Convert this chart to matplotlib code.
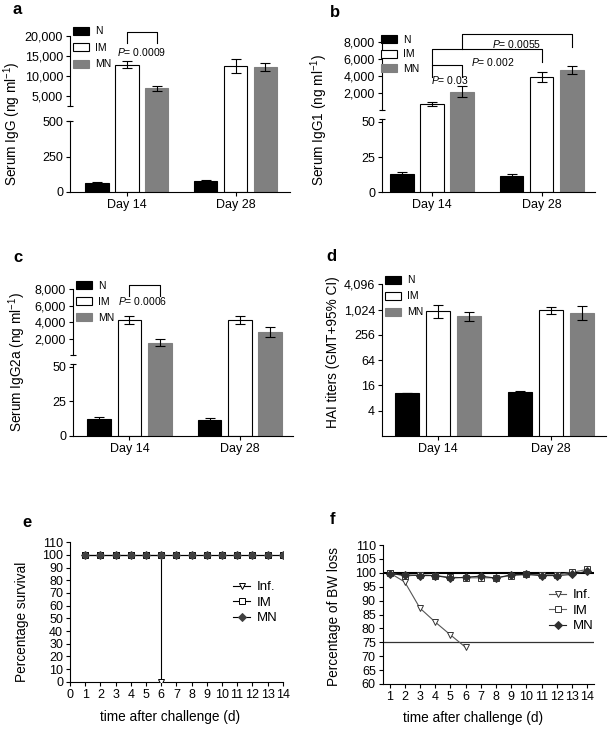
import matplotlib
matplotlib.use('Agg')
import matplotlib.pyplot as plt
import matplotlib.transforms as mtransforms
from matplotlib.ticker import FuncFormatter
import numpy as np

plt.rcParams['font.family'] = ['Liberation Sans', 'DejaVu Sans']
plt.rcParams['mathtext.fontset'] = 'custom'
plt.rcParams['mathtext.rm'] = 'Liberation Sans'
plt.rcParams['mathtext.it'] = 'Liberation Sans:italic'
plt.rcParams['axes.linewidth'] = 0.8

# ---- data ----
days = ['Day 14', 'Day 28']
groups = ['N', 'IM', 'MN']

# a: serum IgG (ng/ml)
igg_n = [65, 76]
igg_im = [12800, 12500]
igg_mn = [6800, 12300]
igg_n_err = [4, 12]
igg_im_err = [940, 1780]
igg_mn_err = [720, 1000]

# b: serum IgG1
igg1_n = [12.9, 11.9]
igg1_im = [750, 3930]
igg1_mn = [2190, 4710]
igg1_n_err = [1.4, 1.0]
igg1_im_err = [250, 580]
igg1_mn_err = [620, 490]

# c: serum IgG2a
igg2a_n = [12.0, 11.3]
igg2a_im = [4300, 4300]
igg2a_mn = [1550, 2880]
igg2a_n_err = [1.5, 1.5]
igg2a_im_err = [500, 500]
igg2a_mn_err = [400, 620]

# d: HAI titers, GMT with 95% CI
hai_n = [10.5, 11.1]
hai_im = [940, 1000]
hai_mn = [715, 855]
hai_n_lo = [10.5, 10.2]
hai_n_hi = [10.5, 12.1]
hai_im_lo = [640, 810]
hai_im_hi = [1325, 1210]
hai_mn_lo = [560, 580]
hai_mn_hi = [915, 1235]

# e: survival
surv_days = list(range(1, 15))
surv_inf_days = [1, 2, 3, 4, 5, 6]
surv_inf = [100, 100, 100, 100, 100, 0]
surv_im = [100] * 14
surv_mn = [100] * 14

# f: body weight
bw_days = list(range(1, 15))
bw_inf_days = [1, 2, 3, 4, 5, 6]
bw_inf = [100, 96.7, 87.3, 82.3, 77.7, 73.2]
bw_im = [100, 98.8, 99.3, 99.0, 98.4, 98.2, 98.2, 98.2, 99.0, 99.4, 99.3, 99.3, 100.2, 101.2]
bw_mn = [99.6, 99.3, 99.0, 99.0, 98.1, 98.4, 98.8, 98.1, 99.3, 99.4, 99.0, 99.0, 99.4, 100.6]
bw_base = 100
bw_limit = 75

W, H = 613, 730
fig = plt.figure(figsize=(W / 100, H / 100), dpi=100)

TICK_FS = 9
LABEL_FS = 9.8


def frame(x0, x1, ytop, ybot):
    return [x0 / W, 1 - ybot / H, (x1 - x0) / W, (ybot - ytop) / H]


def px(x, y):
    return x / W, 1 - y / H


def broken_scale(vals, hs):
    vals = np.asarray(vals, float)
    hs = np.asarray(hs, float)
    s0 = (hs[1] - hs[0]) / (vals[1] - vals[0])
    s1 = (hs[-1] - hs[-2]) / (vals[-1] - vals[-2])
    v = np.r_[vals[0] - 1e6, vals, vals[-1] + 1e6]
    h = np.r_[hs[0] - 1e6 * s0, hs, hs[-1] + 1e6 * s1]
    return (lambda x: np.interp(x, v, h)), (lambda y: np.interp(y, h, v))


def broken_spine(ax, lower, upper):
    ax.spines['left'].set_visible(False)
    tr = mtransforms.blended_transform_factory(ax.transAxes, ax.transData)
    ax.plot([0, 0], lower, color='k', lw=0.8, transform=tr, clip_on=False,
            marker='_', markevery=[1], ms=5, mew=0.8)
    ax.plot([0, 0], upper, color='k', lw=0.8, transform=tr, clip_on=False,
            marker='_', markevery=[0], ms=5, mew=0.8)


OFF, BW = 0.275, 0.215
fills = ['black', 'white', '#808080']
edges = ['black', 'black', '#808080']
comma = FuncFormatter(lambda v, p: f'{v:,.0f}')


def bar_panel(ax, means, errs, xlim):
    x = np.arange(len(days))
    for i, (m, e) in enumerate(zip(means, errs)):
        ax.bar(x + (i - 1) * OFF, m, width=BW, color=fills[i], edgecolor=edges[i],
               linewidth=0.8, label=groups[i], yerr=e, capsize=3.5,
               error_kw=dict(elinewidth=0.8, capthick=0.8, ecolor='black'), zorder=2)
    ax.set_xlim(*xlim)
    ax.set_xticks(x)
    ax.set_xticklabels(days)
    for s in ['top', 'right']:
        ax.spines[s].set_visible(False)
    ax.tick_params(labelsize=TICK_FS, length=3, width=0.8, pad=2)


def bar_legend(ax, x, y, spacing):
    ax.legend(loc='upper left', bbox_to_anchor=px(x, y), bbox_transform=fig.transFigure,
              frameon=False, fontsize=7.5, borderpad=0, borderaxespad=0,
              handlelength=1.55, handleheight=0.8, handletextpad=0.6, labelspacing=spacing)


def bracket(ax, x0, x1, top, leg0, leg1):
    tr = mtransforms.blended_transform_factory(ax.transData, ax.transAxes)
    ax.plot([x0, x0, x1, x1], [leg0, top, top, leg1], color='k', lw=0.8,
            transform=tr, clip_on=False)


def ptext(ax, x, y, s):
    tr = mtransforms.blended_transform_factory(ax.transData, ax.transAxes)
    ax.text(x, y, r'$P$= ' + s, transform=tr, ha='center', va='center', fontsize=7.5)


# ---- a ----
ax = fig.add_axes(frame(70, 290, 36, 192))
fwd, inv = broken_scale([0, 500, 2500, 20000], [0, 71, 86.5, 156])
ax.set_yscale('function', functions=(fwd, inv))
bar_panel(ax, [igg_n, igg_im, igg_mn], [igg_n_err, igg_im_err, igg_mn_err], (-0.525, 1.502))
ax.set_ylim(0, 20000)
ax.set_yticks([0, 250, 500, 5000, 10000, 15000, 20000])
ax.yaxis.set_major_formatter(comma)
broken_spine(ax, [0, 515], [2500, 20000])
bar_legend(ax, 73, 26.5, 0.62)
bracket(ax, 0, OFF, 1.024, 0.957, 0.957)
ptext(ax, 0.138, 0.896, '0.0009')

# ---- b ----
ax = fig.add_axes(frame(382, 595, 41.7, 192.3))
fwd, inv = broken_scale([0, 52, 100, 8000], [0, 73.3, 82.7, 150.6])
ax.set_yscale('function', functions=(fwd, inv))
bar_panel(ax, [igg1_n, igg1_im, igg1_mn], [igg1_n_err, igg1_im_err, igg1_mn_err], (-0.456, 1.486))
ax.set_ylim(0, 8000)
ax.set_yticks([0, 25, 50, 2000, 4000, 6000, 8000])
ax.yaxis.set_major_formatter(comma)
broken_spine(ax, [0, 52], [100, 8000])
bar_legend(ax, 381, 35, 0.42)
bracket(ax, 0, OFF, 0.845, 0.768, 0.768)
ptext(ax, 0.16, 0.746, '0.03')
bracket(ax, 0, 1, 0.95, 0.845, 0.867)
ptext(ax, 0.556, 0.867, '0.002')
bracket(ax, OFF, 1 + OFF, 1.049, 0.951, 0.967)
ptext(ax, 0.772, 0.985, '0.0055')

# ---- c ----
ax = fig.add_axes(frame(73, 293, 289.3, 435.7))
fwd, inv = broken_scale([0, 52, 100, 8000], [0, 71.8, 81, 146.4])
ax.set_yscale('function', functions=(fwd, inv))
bar_panel(ax, [igg2a_n, igg2a_im, igg2a_mn], [igg2a_n_err, igg2a_im_err, igg2a_mn_err], (-0.511, 1.48))
ax.set_ylim(0, 8000)
ax.set_yticks([0, 25, 50, 2000, 4000, 6000, 8000])
ax.yaxis.set_major_formatter(comma)
broken_spine(ax, [0, 52], [100, 8000])
bar_legend(ax, 76, 281, 0.58)
bracket(ax, 0, OFF, 1.029, 0.954, 0.954)
ptext(ax, 0.122, 0.92, '0.0006')

# ---- d ----
ax = fig.add_axes(frame(382, 606, 284.3, 436))
ax.set_yscale('log', base=2)
hai_means = [hai_n, hai_im, hai_mn]
hai_errs = [[np.subtract(m, lo), np.subtract(hi, m)] for m, lo, hi in
            [(hai_n, hai_n_lo, hai_n_hi), (hai_im, hai_im_lo, hai_im_hi), (hai_mn, hai_mn_lo, hai_mn_hi)]]
bar_panel(ax, hai_means, hai_errs, (-0.496, 1.487))
ax.set_ylim(1, 4096)
ax.set_yticks([4, 16, 64, 256, 1024, 4096])
ax.yaxis.set_major_formatter(comma)
ax.yaxis.set_minor_locator(matplotlib.ticker.NullLocator())
bar_legend(ax, 385, 275.3, 0.58)

# ---- e ----
ax = fig.add_axes(frame(70, 282.7, 542.3, 681.7))
ax.plot(surv_inf_days, surv_inf, color='k', lw=0.8, marker='v', ms=4.5, mfc='white',
        mec='k', mew=0.7, drawstyle='steps-post', label='Inf.', zorder=3)
ax.plot(surv_days, surv_im, color='k', lw=0.8, marker='s', ms=5, mfc='white',
        mec='k', mew=0.7, label='IM', zorder=4)
ax.plot(surv_days, surv_mn, color='k', lw=0.8, marker='D', ms=4.5, mfc='#404040',
        mec='#404040', mew=0.7, label='MN', zorder=5)
ax.set_xlim(0, 14)
ax.set_ylim(0, 110)
ax.set_xticks(range(0, 15))
ax.set_yticks(range(0, 111, 10))
for s in ['top', 'right']:
    ax.spines[s].set_visible(False)
ax.tick_params(labelsize=TICK_FS, length=3, width=0.8, pad=2)
ax.legend(loc='upper left', bbox_to_anchor=px(233, 581), bbox_transform=fig.transFigure,
          frameon=False, fontsize=9.5, borderpad=0, borderaxespad=0,
          handlelength=1.3, handletextpad=0.5, labelspacing=0.25)

# ---- f ----
ax = fig.add_axes(frame(382.7, 594, 545, 684))
ax.axhline(bw_base, color='k', lw=1.5, zorder=1)
ax.axhline(bw_limit, color='#333333', lw=0.9, zorder=1)
ax.plot(bw_inf_days, bw_inf, color='#555555', lw=0.8, marker='v', ms=5, mfc='white',
        mec='#333333', mew=0.7, label='Inf.', zorder=3)
ax.plot(bw_days, bw_im, color='#666666', lw=0.8, marker='s', ms=5, mfc='white',
        mec='#333333', mew=0.7, label='IM', zorder=4)
ax.plot(bw_days, bw_mn, color='#222222', lw=0.8, marker='D', ms=4.5, mfc='#303030',
        mec='#303030', mew=0.7, label='MN', zorder=5)
ax.set_xlim(0.55, 14.45)
ax.set_ylim(60, 110)
ax.set_xticks(range(1, 15))
ax.set_yticks(range(60, 111, 5))
for s in ['top', 'right']:
    ax.spines[s].set_visible(False)
ax.tick_params(labelsize=TICK_FS, length=3, width=0.8, pad=2)
ax.legend(loc='upper left', bbox_to_anchor=px(549, 589), bbox_transform=fig.transFigure,
          frameon=False, fontsize=9.5, borderpad=0, borderaxespad=0,
          handlelength=1.3, handletextpad=0.5, labelspacing=0.25)

# ---- labels ----
for letter, (x, y) in zip('abcdef', [(16.7, 9.5), (335, 12.5), (18, 258), (331, 256.5),
                                     (27, 522.5), (333, 520)]):
    fig.text(*px(x, y), letter, fontsize=12, fontweight='bold', ha='center', va='center')

ylabels = [('Serum IgG (ng ml$^{-1}$)', 12.5, 123.5),
           ('Serum IgG1 (ng ml$^{-1}$)', 319, 120),
           ('Serum IgG2a (ng ml$^{-1}$)', 17.5, 361.7),
           ('HAI titers (GMT+95% CI)', 332.5, 352),
           ('Percentage survival', 22.5, 622),
           ('Percentage of BW loss', 334, 616.5)]
for s, x, y in ylabels:
    fig.text(*px(x, y), s, fontsize=LABEL_FS, rotation=90, ha='center', va='center')

fig.text(*px(170, 717), 'time after challenge (d)', fontsize=LABEL_FS, ha='center', va='center')
fig.text(*px(472.7, 718), 'time after challenge (d)', fontsize=LABEL_FS, ha='center', va='center')

fig.savefig('out.png', dpi=100)
